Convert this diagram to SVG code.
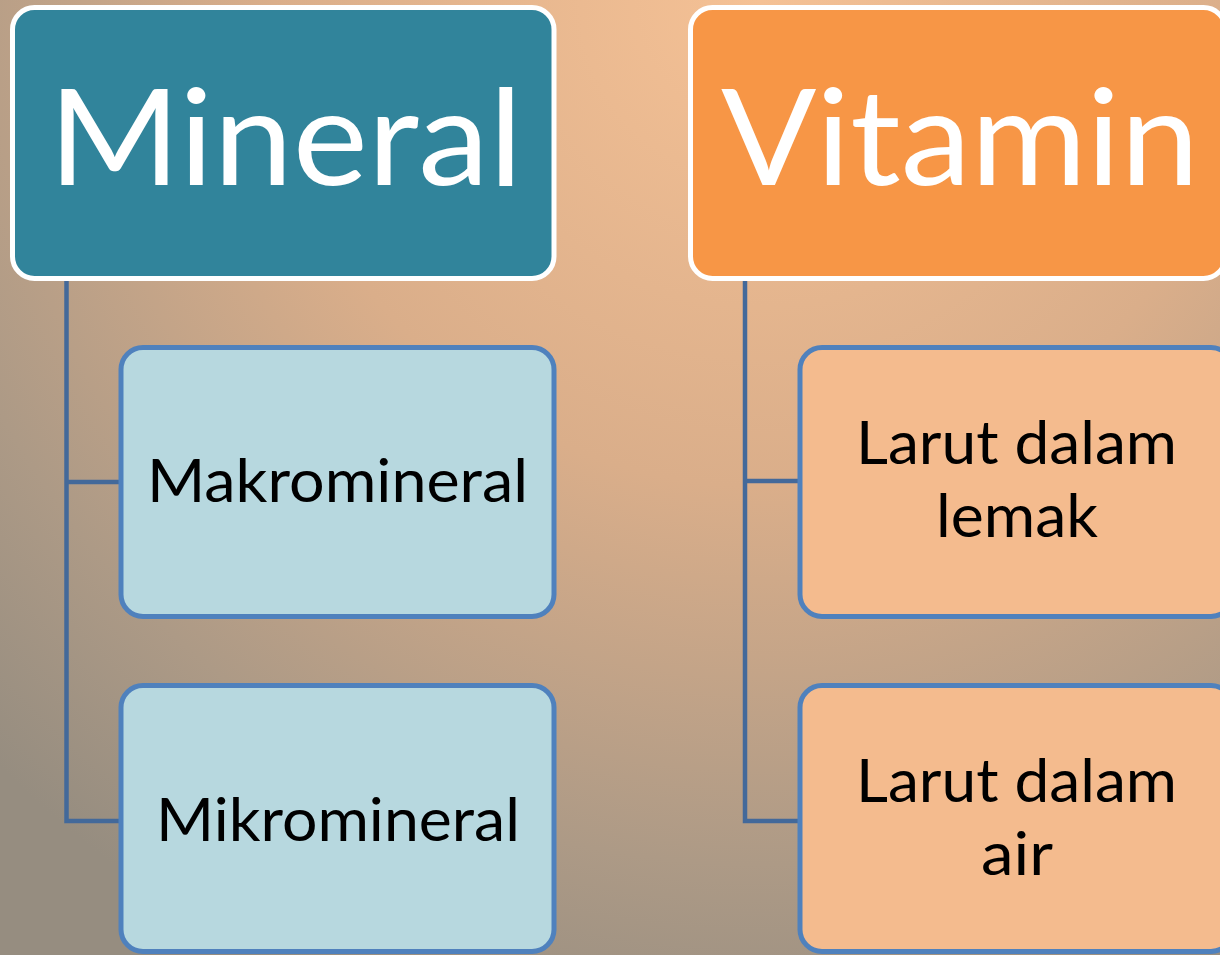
<svg xmlns="http://www.w3.org/2000/svg" width="1220" height="955" viewBox="0 0 1220 955">
<defs>
<radialGradient id="bg" gradientUnits="userSpaceOnUse" cx="760" cy="0" r="1080">
<stop offset="0" stop-color="#F5C195"/>
<stop offset="0.45" stop-color="#DAAE8A"/>
<stop offset="0.8" stop-color="#AD9A86"/>
<stop offset="1" stop-color="#968D80"/>
</radialGradient>
<style>
.head{stroke:#FFFFFF;stroke-width:5}
.min{fill:#31849B}
.vit{fill:#F79646}
.child{stroke:#4F81BD;stroke-width:5}
.cmin{fill:#B7D8DF}
.cvit{fill:#F4BB8E}
.ht{font-family:Lato,"Open Sans",sans-serif;font-size:134px;fill:#FFFFFF;text-anchor:middle}
.ct{font-family:Lato,"Open Sans",sans-serif;font-size:60px;fill:#000000;text-anchor:middle}
.conn{fill:none;stroke:#43699A;stroke-width:4.5}
</style>
</defs>
<rect x="0" y="0" width="1220" height="955" fill="url(#bg)"/>
<g id="connectors">
<path class="conn" d="M66.5,280 V821 H121 M66.5,482 H121"/>
<path class="conn" d="M745,280 V821 H800 M745,481 H800"/>
</g>
<g id="mineral">
<rect class="head min" x="12.5" y="7.5" width="541.5" height="271" rx="22"/>
<text class="ht" x="285.5" y="185" textLength="474" lengthAdjust="spacingAndGlyphs">Mineral</text>
</g>
<g id="vitamin">
<rect class="head vit" x="690.5" y="7.5" width="535" height="271" rx="22"/>
<text class="ht" x="960" y="185" textLength="478" lengthAdjust="spacingAndGlyphs">Vitamin</text>
</g>
<g id="makromineral">
<rect class="child cmin" x="121" y="347.5" width="433" height="269" rx="22"/>
<text class="ct" x="337.5" y="502" textLength="381" lengthAdjust="spacingAndGlyphs">Makromineral</text>
</g>
<g id="mikromineral">
<rect class="child cmin" x="121" y="685.5" width="433" height="266" rx="22"/>
<text class="ct" x="338" y="841" textLength="364" lengthAdjust="spacingAndGlyphs">Mikromineral</text>
</g>
<g id="larut-lemak">
<rect class="child cvit" x="800" y="347.5" width="433" height="269" rx="22"/>
<text class="ct" x="1016.5" y="464" textLength="321" lengthAdjust="spacingAndGlyphs">Larut dalam</text>
<text class="ct" x="1017" y="537" textLength="162" lengthAdjust="spacingAndGlyphs">lemak</text>
</g>
<g id="larut-air">
<rect class="child cvit" x="800" y="685.5" width="433" height="266" rx="22"/>
<text class="ct" x="1016.5" y="802" textLength="321" lengthAdjust="spacingAndGlyphs">Larut dalam</text>
<text class="ct" x="1017" y="875" textLength="72" lengthAdjust="spacingAndGlyphs">air</text>
</g>
</svg>
